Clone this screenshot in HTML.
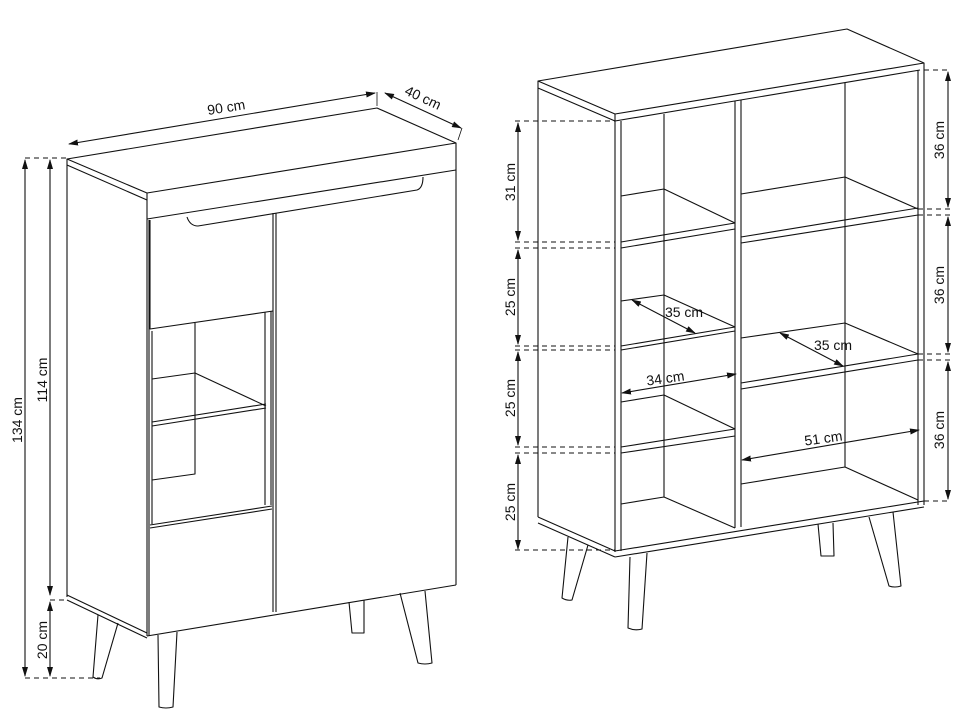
<!DOCTYPE html>
<html><head><meta charset="utf-8"><style>
html,body{margin:0;padding:0;background:#fff;}
svg{display:block}
text{font-family:"Liberation Sans",sans-serif;font-size:14px;fill:#111}
</style></head><body>
<svg width="964" height="728" viewBox="0 0 964 728" xmlns="http://www.w3.org/2000/svg">
<defs>
<marker id="a" markerWidth="10" markerHeight="6" refX="9" refY="3" orient="auto-start-reverse" markerUnits="userSpaceOnUse"><path d="M0,0 L10,3 L0,6 z" fill="#111"/></marker>
</defs>
<g fill="none" stroke="#111" stroke-width="1.1" stroke-linejoin="round">
<path d="M67,159 L377,108 L456,143 L147,193 Z"/>
<path d="M147,193 L147,636 M149,220 L149,636"/>
<path d="M456,143 L456,585"/>
<path d="M147,219 L456,170"/>
<path d="M67,159 L67,597 M67,165 L147,200"/>
<path d="M67,595 L147,633 M67,600 L147,638"/>
<path d="M147,636 L456,585"/>
<path d="M187,217 Q190,226 198,226 L417,190 Q423,188 423,177"/>
<path d="M273,213 L273,612 M276,213 L276,612"/>
<path d="M150,220 L150,329 L273,311"/>
<path d="M152,331 L152,524 M265,312 L265,505 M271,311 L271,505"/>
<path d="M195,323 L195,474 L152,480"/>
<path d="M152,379 L195,373 L266,406 M152,422 L266,404 M152,426 L266,408"/>
<path d="M150,525 L272,506 M150,528 L272,509"/>
<path d="M158,635 L159,707 Q166,709 173,707 L177,632"/>
<path d="M98,615 L93,677 Q97,680 102,678 L118,623"/>
<path d="M400,593 L418,663 Q425,665 432,663 L425,591"/>
<path d="M349,602 L352,633 L364,633 L364,600"/>
<path d="M25,160 L25,676" marker-start="url(#a)" marker-end="url(#a)"/>
<path d="M50,160 L50,595" marker-start="url(#a)" marker-end="url(#a)"/>
<path d="M50,602 L50,676" marker-start="url(#a)" marker-end="url(#a)"/>
<path d="M69,144 L375,93" marker-start="url(#a)" marker-end="url(#a)"/>
<path d="M385,93 L461,128" marker-start="url(#a)" marker-end="url(#a)"/>
<path d="M377,92 L377,106 M462,128 L458,140" stroke-width="0.8"/>
<g stroke-dasharray="5,4" stroke-width="1">
<path d="M25,158 L66,158 M25,678 L100,678 M50,600 L67,600"/>
</g>
<path d="M538,81 L847,29 L924,63 L615,114 Z"/>
<path d="M615,121 L920,70"/>
<path d="M538,81 L538,517 M538,88 L615,121"/>
<path d="M538,517 L615,551 M538,523 L615,557"/>
<path d="M615,114 L615,552 M621,121 L621,551"/>
<path d="M918,70 L918,505 M924,63 L924,505"/>
<path d="M615,551 L924,501 M615,557 L924,507"/>
<path d="M735,101 L735,528 M741,100 L741,527"/>
<path d="M664,114 L664,497 M845,83 L845,467"/>
<path d="M621,196 L664,189 L735,223 M621,242 L735,223 M621,248 L735,229"/>
<path d="M621,301 L664,295 L735,327 M621,346 L735,327 M621,350 L735,331"/>
<path d="M621,402 L664,395 L735,429 M621,447 L735,429 M621,453 L735,436"/>
<path d="M621,504 L664,497 L735,528"/>
<path d="M741,194 L845,177 L918,209 M741,237 L918,208 M741,243 L918,215"/>
<path d="M741,338 L845,323 L918,354 M741,383 L918,354 M741,389 L918,360"/>
<path d="M741,484 L845,467 L918,500"/>
<path d="M568,537 L562,598 Q567,601 572,600 L588,545"/>
<path d="M630,557 L628,628 Q635,631 642,629 L647,553"/>
<path d="M818,524 L821,556 L834,556 L833,523"/>
<path d="M869,517 L889,586 Q895,588 901,586 L893,512"/>
<path d="M518,123 L518,240" marker-start="url(#a)" marker-end="url(#a)"/>
<path d="M518,250 L518,344" marker-start="url(#a)" marker-end="url(#a)"/>
<path d="M518,352 L518,445" marker-start="url(#a)" marker-end="url(#a)"/>
<path d="M518,455 L518,549" marker-start="url(#a)" marker-end="url(#a)"/>
<path d="M948,72 L948,207" marker-start="url(#a)" marker-end="url(#a)"/>
<path d="M948,217 L948,352" marker-start="url(#a)" marker-end="url(#a)"/>
<path d="M948,362 L948,499" marker-start="url(#a)" marker-end="url(#a)"/>
<g stroke-dasharray="5,4" stroke-width="1">
<path d="M515,121 L615,121 M515,242 L615,242 M515,248 L615,248 M515,346 L615,346 M515,350 L615,350 M515,447 L615,447 M515,453 L615,453 M515,550 L615,550"/>
<path d="M924,70 L951,70 M918,209 L951,209 M918,215 L951,215 M918,354 L951,354 M918,360 L951,360 M924,501 L951,501"/>
</g>
<path d="M632,300 L695,333" marker-start="url(#a)" marker-end="url(#a)"/>
<path d="M780,333 L843,366" marker-start="url(#a)" marker-end="url(#a)"/>
<path d="M622,393 L736,374" marker-start="url(#a)" marker-end="url(#a)"/>
<path d="M742,460 L919,430" marker-start="url(#a)" marker-end="url(#a)"/>
</g>
<text transform="translate(227,112) rotate(-9)" text-anchor="middle">90 cm</text>
<text transform="translate(421,102) rotate(25)" text-anchor="middle">40 cm</text>
<text transform="translate(22,420) rotate(-90)" text-anchor="middle">134 cm</text>
<text transform="translate(47,380) rotate(-90)" text-anchor="middle">114 cm</text>
<text transform="translate(47,640) rotate(-90)" text-anchor="middle">20 cm</text>
<text transform="translate(515,182) rotate(-90)" text-anchor="middle">31 cm</text>
<text transform="translate(515,297) rotate(-90)" text-anchor="middle">25 cm</text>
<text transform="translate(515,398) rotate(-90)" text-anchor="middle">25 cm</text>
<text transform="translate(515,502) rotate(-90)" text-anchor="middle">25 cm</text>
<text transform="translate(944,140) rotate(-90)" text-anchor="middle">36 cm</text>
<text transform="translate(944,285) rotate(-90)" text-anchor="middle">36 cm</text>
<text transform="translate(944,430) rotate(-90)" text-anchor="middle">36 cm</text>
<text x="684" y="317" text-anchor="middle">35 cm</text>
<text x="833" y="350" text-anchor="middle">35 cm</text>
<text transform="translate(666,383) rotate(-8)" text-anchor="middle">34 cm</text>
<text transform="translate(824,443) rotate(-8)" text-anchor="middle">51 cm</text>
</svg>
</body></html>
